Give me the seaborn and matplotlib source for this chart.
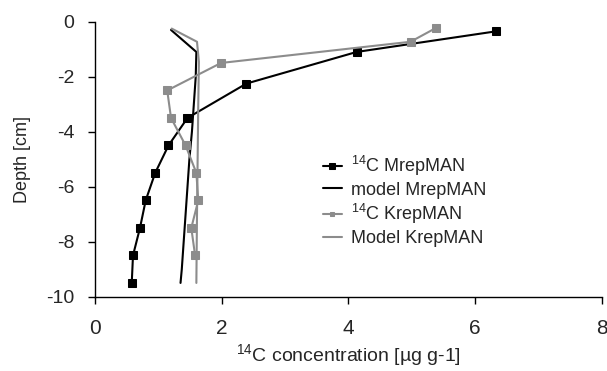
import matplotlib
matplotlib.use("Agg")
import matplotlib.pyplot as plt
import seaborn as sns
import pandas as pd

# Measured 14C MrepMAN
m_depth = [-0.35, -1.1, -2.25, -3.5, -4.5, -5.5, -6.5, -7.5, -8.5, -9.5]
m_conc = [6.33, 4.13, 2.39, 1.46, 1.16, 0.95, 0.80, 0.71, 0.60, 0.58]

# Measured 14C KrepMAN
k_depth = [-0.23, -0.73, -1.5, -2.5, -3.5, -4.5, -5.5, -6.5, -7.5, -8.5]
k_conc = [5.38, 4.98, 1.99, 1.14, 1.20, 1.43, 1.60, 1.63, 1.52, 1.58]

# Model MrepMAN
mm_depth = [-0.3, -1.1, -2.0, -3.0, -4.0, -5.0, -6.0, -7.0, -8.0, -9.0, -9.5]
mm_conc = [1.20, 1.60, 1.59, 1.56, 1.53, 1.49, 1.46, 1.43, 1.40, 1.37, 1.35]

# Model KrepMAN
mk_depth = [-0.25, -0.73, -1.46, -3.0, -5.0, -7.0, -9.5]
mk_conc = [1.21, 1.61, 1.64, 1.63, 1.62, 1.61, 1.60]

labels = [r"$^{14}$C MrepMAN", "model MrepMAN", r"$^{14}$C KrepMAN", "Model KrepMAN"]

sns.set_style("white")
plt.rcParams['font.family'] = ['Liberation Sans', 'DejaVu Sans']
plt.rcParams['mathtext.fontset'] = 'custom'
plt.rcParams['mathtext.rm'] = 'Liberation Sans'
plt.rcParams['mathtext.it'] = 'Liberation Sans'

fig = plt.figure(figsize=(6.07, 3.71), dpi=100)
ax = fig.add_axes([0.1565, 0.2003, 0.835, 0.7412])

black = "#000000"
gray = "#8c8c8c"

sns.lineplot(x=m_conc, y=m_depth, sort=False, estimator=None, ax=ax, color=black,
             lw=1.5, marker='s', markersize=6.3, markeredgecolor=black, label=labels[0])
sns.lineplot(x=mm_conc, y=mm_depth, sort=False, estimator=None, ax=ax, color=black,
             lw=1.5, label=labels[1])
sns.lineplot(x=k_conc, y=k_depth, sort=False, estimator=None, ax=ax, color=gray,
             lw=1.5, marker='s', markersize=5.8, markeredgecolor=gray, label=labels[2])
sns.lineplot(x=mk_conc, y=mk_depth, sort=False, estimator=None, ax=ax, color=gray,
             lw=1.5, label=labels[3])

ax.set_xlim(0, 8)
ax.set_ylim(-10, 0)
ax.set_xticks([0, 2, 4, 6, 8])
ax.set_yticks([0, -2, -4, -6, -8, -10])
ax.set_xticklabels(["0", "2", "4", "6", "8"])
ax.set_yticklabels(["0", "-2", "-4", "-6", "-8", "-10"])
ax.tick_params(axis='x', labelsize=15, direction='out', length=5, width=1,
               color=black, bottom=True, pad=11)
ax.tick_params(axis='y', labelsize=14, direction='out', length=5, width=1,
               color=black, left=True, pad=10)
for s in ['top', 'right']:
    ax.spines[s].set_visible(False)
for s in ['left', 'bottom']:
    ax.spines[s].set_color(black)
    ax.spines[s].set_linewidth(1)

ax.set_xlabel(r"$^{14}$C concentration [µg g-1]", fontsize=14, labelpad=3)
ax.set_ylabel("Depth [cm]", fontsize=13, labelpad=11)

leg = ax.legend(loc='center left', bbox_to_anchor=(0.449, 0.35), frameon=False,
                fontsize=13, handlelength=1.05, handletextpad=0.55, labelspacing=0.2,
                markerscale=0.6, borderpad=0, borderaxespad=0)

fig.savefig("out.png", dpi=100)
